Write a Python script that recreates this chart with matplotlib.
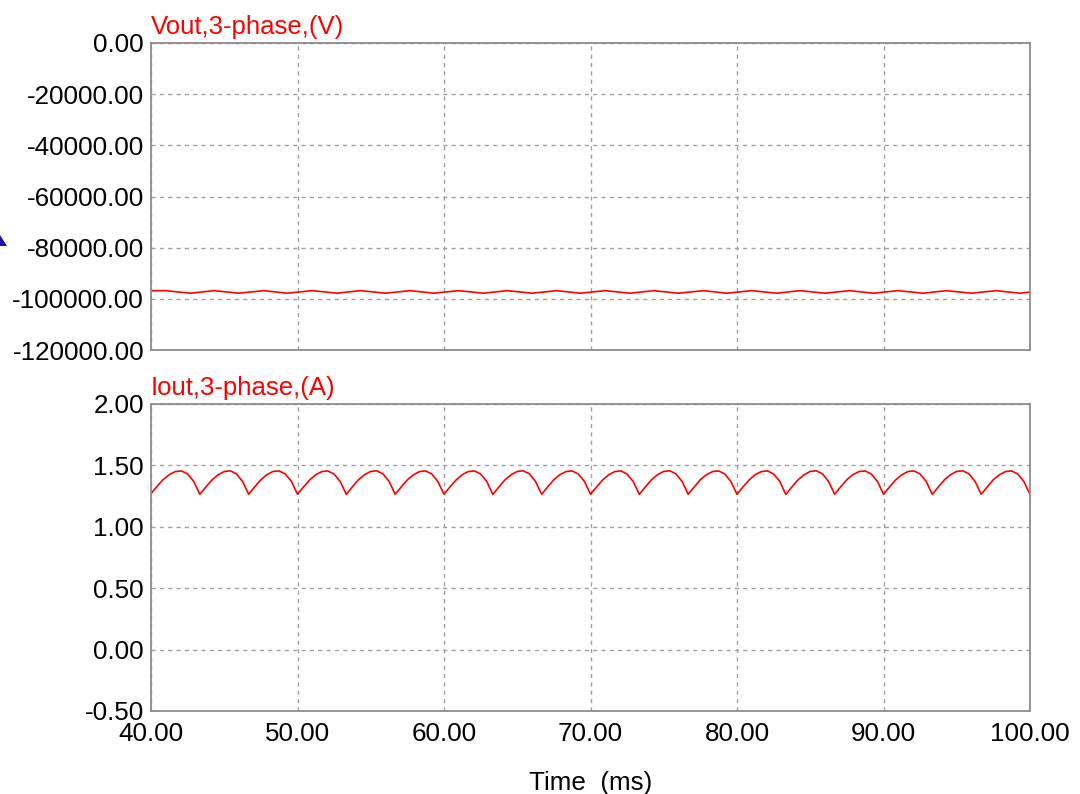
import numpy as np
import matplotlib
matplotlib.use("Agg")
import matplotlib.pyplot as plt
from matplotlib.patches import Polygon
from matplotlib.ticker import FormatStrFormatter, MultipleLocator

plt.rcParams["font.family"] = ["Liberation Sans", "DejaVu Sans"]

# Vout: ripple turning points (ms, V)
vout_t = [40.0, 41.0, 42.7, 44.3, 46.0, 47.7, 49.3, 51.0, 52.7, 54.3,
          56.0, 57.7, 59.3, 61.0, 62.7, 64.3, 66.0, 67.7, 69.3, 71.0,
          72.7, 74.3, 76.0, 77.7, 79.3, 81.0, 82.7, 84.3, 86.0, 87.7,
          89.3, 91.0, 92.7, 94.3, 96.0, 97.7, 99.3, 100.0]
vout_v = [-96850, -96800, -97800, -96800, -97800, -96800, -97800, -96800,
          -97800, -96800, -97800, -96800, -97800, -96800, -97800, -96800,
          -97800, -96800, -97800, -96800, -97800, -96800, -97800, -96800,
          -97800, -96800, -97800, -96800, -97800, -96800, -97800, -96800,
          -97800, -96800, -97800, -96800, -97800, -97400]

# Iout: sampled every 1/2.4 ms (8 samples per 3.33 ms ripple period)
iout_t = np.linspace(40.0, 100.0, 145)
iout_a = [
    1.270, 1.330, 1.385, 1.425, 1.450, 1.455, 1.430, 1.370,
    1.265, 1.325, 1.382, 1.424, 1.450, 1.456, 1.431, 1.369,
    1.265, 1.326, 1.383, 1.425, 1.451, 1.455, 1.430, 1.370,
    1.265, 1.325, 1.382, 1.424, 1.450, 1.455, 1.429, 1.369,
    1.264, 1.326, 1.384, 1.425, 1.451, 1.456, 1.431, 1.370,
    1.265, 1.325, 1.383, 1.424, 1.450, 1.455, 1.430, 1.369,
    1.265, 1.326, 1.382, 1.425, 1.450, 1.455, 1.430, 1.370,
    1.264, 1.325, 1.383, 1.424, 1.451, 1.456, 1.431, 1.369,
    1.265, 1.326, 1.384, 1.425, 1.450, 1.455, 1.430, 1.370,
    1.265, 1.325, 1.382, 1.424, 1.450, 1.455, 1.429, 1.369,
    1.264, 1.326, 1.383, 1.425, 1.451, 1.456, 1.431, 1.370,
    1.265, 1.325, 1.384, 1.424, 1.450, 1.455, 1.430, 1.369,
    1.265, 1.326, 1.382, 1.425, 1.450, 1.455, 1.430, 1.370,
    1.264, 1.325, 1.383, 1.424, 1.451, 1.456, 1.431, 1.369,
    1.265, 1.326, 1.384, 1.425, 1.450, 1.455, 1.430, 1.370,
    1.265, 1.325, 1.382, 1.424, 1.450, 1.455, 1.429, 1.369,
    1.264, 1.326, 1.383, 1.425, 1.451, 1.456, 1.431, 1.370,
    1.265, 1.325, 1.384, 1.424, 1.450, 1.455, 1.430, 1.369,
    1.265,
]

x_ticks = [40, 50, 60, 70, 80, 90, 100]

W, H = 1080, 794
fig = plt.figure(figsize=(W / 100, H / 100), dpi=100)

left, right = 151 / W, 1030 / W
ax_v = fig.add_axes([left, 1 - 350 / H, right - left, 307 / H])
ax_i = fig.add_axes([left, 1 - 711 / H, right - left, 307 / H], sharex=ax_v)

grid_kw = dict(color="#a0a0a0", linestyle=(0, (3, 3)), linewidth=1.0)
TICK_FS = 18.7


def style(ax, title):
    for s in ax.spines.values():
        s.set_color("#8c8c8c")
        s.set_linewidth(1.3)
    ax.grid(True, **grid_kw)
    ax.set_axisbelow(True)
    ax.tick_params(length=0, labelsize=TICK_FS, pad=5)
    ax.yaxis.set_major_formatter(FormatStrFormatter("%.2f"))
    ax.text(0.0, 1.012, title, transform=ax.transAxes, color="#ff0000",
            fontsize=18.5, ha="left", va="bottom")


ax_v.plot(vout_t, vout_v, color="#ff0000", linewidth=1.2)
ax_v.set_ylim(-120000, 0)
ax_v.yaxis.set_major_locator(MultipleLocator(20000))
style(ax_v, "Vout,3-phase,(V)")
ax_v.tick_params(axis="x", labelbottom=False)

ax_i.plot(iout_t, iout_a, color="#ff0000", linewidth=1.2)
ax_i.set_ylim(-0.5, 2.0)
ax_i.yaxis.set_major_locator(MultipleLocator(0.5))
style(ax_i, "Iout,3-phase,(A)")
ax_i.set_xlim(40, 100)
ax_i.set_xticks(x_ticks)
ax_i.xaxis.set_major_formatter(FormatStrFormatter("%.2f"))
ax_i.tick_params(axis="x", pad=8)
ax_i.set_xlabel("Time  (ms)", fontsize=TICK_FS, labelpad=18)

# small cursor marker at the left edge
fig.patches.append(Polygon([[0, 1 - 235 / H], [7 / W, 1 - 246 / H], [0, 1 - 246 / H]],
                           closed=True, transform=fig.transFigure,
                           facecolor="#1414a8", edgecolor="none"))

fig.savefig("out.png", dpi=100)
